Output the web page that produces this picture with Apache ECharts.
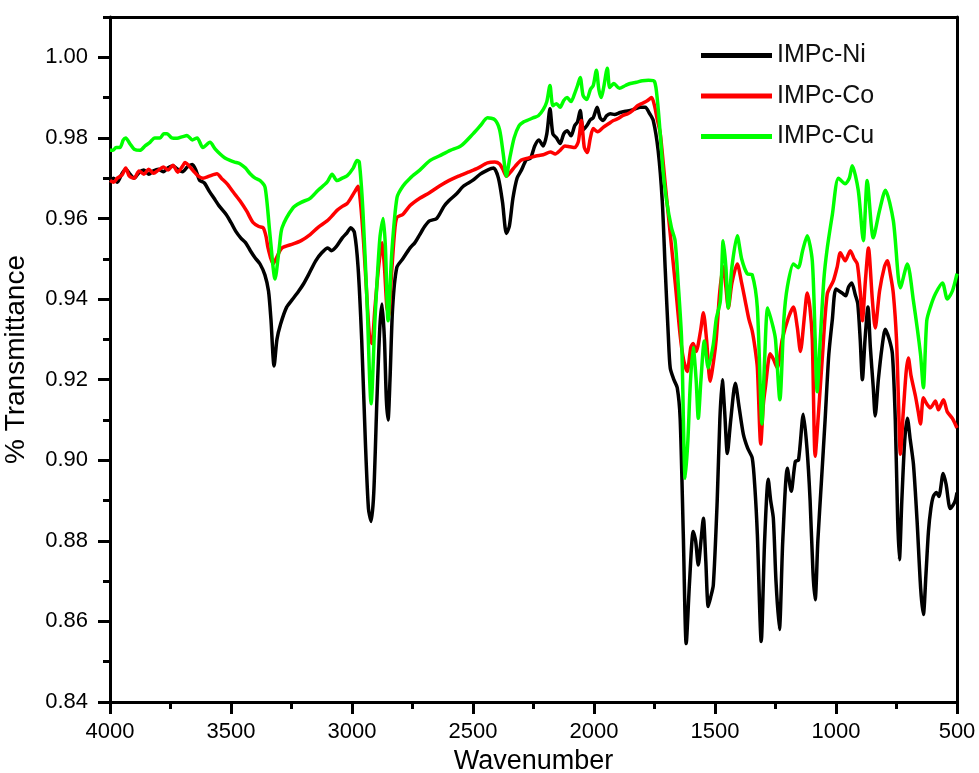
<!DOCTYPE html>
<html>
<head>
<meta charset="utf-8">
<script src="https://cdn.jsdelivr.net/npm/echarts@6/dist/echarts.min.js"></script>
<style>html,body{margin:0;padding:0;background:#fff}#c{width:979px;height:773px}</style>
</head>
<body>
<div id="c"></div>
<script>
var seriesNames = ['IMPc-Ni', 'IMPc-Co', 'IMPc-Cu'];
var yTicks = [0.84, 0.86, 0.88, 0.90, 0.92, 0.94, 0.96, 0.98, 1.00];
var xTicks = [4000, 3500, 3000, 2500, 2000, 1500, 1000, 500];

var niWave = [4000,3985,3970,3950,3935,3920,3900,3880,3860,3840,3820,3800,3780,3760,3740,3720,3700,3680,3660,3645,3630,3610,3590,3570,3550,3520,3500,3480,3460,3440,3420,3400,3380,3360,3345,3335,3322,3310,3295,3270,3245,3220,3200,3180,3150,3125,3100,3085,3065,3040,3020,3005,2990,2975,2960,2945,2932,2921,2910,2897,2885,2876,2866,2858,2851,2843,2832,2815,2790,2760,2740,2720,2700,2680,2650,2620,2600,2570,2540,2500,2470,2440,2415,2395,2378,2362,2350,2335,2318,2300,2280,2262,2245,2228,2210,2195,2182,2170,2155,2140,2125,2111,2095,2080,2068,2057,2045,2030,2015,2003,1987,1975,1962,1948,1933,1915,1892,1870,1850,1830,1809,1788,1770,1755,1735,1718,1706,1693,1685,1670,1656,1644,1631,1619,1605,1590,1580,1569,1558,1548,1538,1528,1518,1507,1491,1480,1470,1460,1449,1435,1416,1400,1383,1365,1346,1335,1325,1309,1295,1280,1270,1259,1248,1234,1220,1201,1185,1168,1155,1135,1120,1107,1095,1086,1075,1060,1045,1030,1015,1000,975,960,948,935,920,910,900,891,880,868,858,846,838,825,810,796,780,767,755,745,738,728,716,705,693,680,665,650,639,628,618,608,598,585,575,557,545,528,515,507,500];
var niT = [0.9694,0.9700,0.9690,0.9712,0.9722,0.9712,0.9700,0.9714,0.9720,0.9710,0.9718,0.9722,0.9716,0.9726,0.9730,0.9722,0.9716,0.9728,0.9734,0.9720,0.9695,0.9688,0.9668,0.9650,0.9632,0.9610,0.9590,0.9568,0.9552,0.9540,0.9520,0.9502,0.9487,0.9460,0.9420,0.9350,0.9234,0.9300,0.9338,0.9380,0.9400,0.9420,0.9438,0.9460,0.9495,0.9515,0.9527,0.9520,0.9530,0.9552,0.9565,0.9577,0.9565,0.9480,0.9300,0.9050,0.8880,0.8848,0.8920,0.9150,0.9330,0.9388,0.9300,0.9150,0.9100,0.9200,0.9380,0.9478,0.9500,0.9527,0.9540,0.9560,0.9580,0.9594,0.9600,0.9630,0.9644,0.9660,0.9680,0.9695,0.9710,0.9720,0.9725,0.9700,0.9640,0.9563,0.9580,0.9650,0.9700,0.9720,0.9745,0.9750,0.9780,0.9795,0.9780,0.9810,0.9872,0.9810,0.9800,0.9786,0.9810,0.9818,0.9805,0.9830,0.9840,0.9868,0.9820,0.9830,0.9845,0.9850,0.9876,0.9850,0.9843,0.9855,0.9860,0.9858,0.9863,0.9866,0.9868,0.9872,0.9876,0.9876,0.9860,0.9843,0.9769,0.9644,0.9478,0.9310,0.9229,0.9200,0.9180,0.9104,0.8816,0.8545,0.8700,0.8823,0.8800,0.8740,0.8800,0.8856,0.8750,0.8637,0.8660,0.8690,0.8898,0.9100,0.9200,0.9120,0.9017,0.9100,0.9191,0.9130,0.9065,0.9030,0.9005,0.8930,0.8816,0.8550,0.8800,0.8953,0.8900,0.8856,0.8700,0.8580,0.8800,0.8980,0.8923,0.8997,0.9000,0.9114,0.9030,0.8900,0.8720,0.8654,0.8800,0.8950,0.9100,0.9260,0.9350,0.9425,0.9415,0.9408,0.9430,0.9440,0.9410,0.9388,0.9300,0.9200,0.9300,0.9380,0.9280,0.9180,0.9110,0.9200,0.9280,0.9325,0.9300,0.9264,0.9100,0.8850,0.8753,0.8900,0.9050,0.9104,0.9050,0.8990,0.8850,0.8680,0.8617,0.8720,0.8823,0.8880,0.8910,0.8920,0.8910,0.8967,0.8940,0.8880,0.8890,0.8900,0.8920];

var coWave = [4000,3985,3970,3950,3935,3920,3900,3880,3860,3840,3820,3800,3780,3760,3740,3720,3700,3690,3657,3635,3616,3590,3558,3540,3516,3490,3463,3435,3409,3385,3367,3355,3347,3326,3310,3289,3243,3210,3173,3140,3103,3080,3062,3040,3020,3000,2985,2975,2965,2952,2940,2928,2918,2905,2890,2876,2866,2856,2848,2838,2825,2815,2790,2760,2720,2680,2640,2600,2560,2520,2480,2440,2410,2390,2375,2362,2345,2325,2300,2270,2240,2210,2180,2160,2140,2120,2100,2080,2065,2052,2040,2028,2015,2003,1985,1962,1940,1920,1900,1880,1860,1840,1820,1800,1780,1762,1750,1740,1726,1706,1685,1664,1644,1630,1615,1600,1590,1578,1560,1548,1535,1520,1505,1495,1480,1466,1455,1445,1430,1408,1390,1375,1360,1346,1335,1325,1311,1300,1292,1272,1258,1243,1222,1197,1176,1160,1147,1130,1119,1108,1098,1086,1072,1057,1036,1011,995,982,962,941,925,912,900,891,878,866,850,838,820,800,788,775,763,750,742,734,722,710,701,690,672,660,651,639,625,610,589,577,556,540,519,500];
var coT = [0.9694,0.9690,0.9700,0.9708,0.9725,0.9705,0.9700,0.9718,0.9710,0.9722,0.9712,0.9720,0.9728,0.9720,0.9732,0.9715,0.9730,0.9739,0.9719,0.9705,0.9700,0.9705,0.9711,0.9700,0.9686,0.9665,0.9644,0.9618,0.9590,0.9580,0.9577,0.9555,0.9527,0.9487,0.9505,0.9527,0.9537,0.9545,0.9560,0.9578,0.9594,0.9608,0.9620,0.9630,0.9637,0.9655,0.9670,0.9680,0.9640,0.9540,0.9420,0.9310,0.9290,0.9380,0.9480,0.9540,0.9480,0.9380,0.9360,0.9450,0.9560,0.9602,0.9610,0.9632,0.9650,0.9664,0.9680,0.9694,0.9705,0.9715,0.9725,0.9738,0.9740,0.9735,0.9720,0.9705,0.9715,0.9730,0.9745,0.9750,0.9755,0.9758,0.9765,0.9760,0.9769,0.9780,0.9778,0.9776,0.9790,0.9843,0.9776,0.9764,0.9800,0.9823,0.9815,0.9826,0.9835,0.9843,0.9848,0.9856,0.9860,0.9868,0.9880,0.9886,0.9892,0.9900,0.9880,0.9850,0.9810,0.9687,0.9562,0.9438,0.9310,0.9250,0.9220,0.9280,0.9290,0.9270,0.9320,0.9366,0.9300,0.9196,0.9250,0.9300,0.9420,0.9480,0.9430,0.9378,0.9440,0.9487,0.9440,0.9395,0.9350,0.9320,0.9280,0.9230,0.9040,0.9140,0.9180,0.9264,0.9250,0.9229,0.9300,0.9353,0.9380,0.9330,0.9270,0.9360,0.9415,0.9380,0.9300,0.9010,0.9120,0.9250,0.9413,0.9445,0.9480,0.9515,0.9495,0.9520,0.9500,0.9487,0.9420,0.9346,0.9450,0.9527,0.9400,0.9328,0.9420,0.9480,0.9495,0.9460,0.9413,0.9300,0.9150,0.9015,0.9120,0.9220,0.9254,0.9210,0.9160,0.9120,0.9090,0.9155,0.9140,0.9130,0.9147,0.9125,0.9150,0.9120,0.9104,0.9080];

var cuWave = [4000,3988,3975,3959,3945,3935,3917,3900,3876,3855,3835,3815,3793,3778,3764,3745,3723,3700,3682,3660,3640,3616,3587,3565,3545,3525,3504,3485,3463,3440,3421,3400,3380,3359,3339,3318,3300,3289,3243,3210,3173,3140,3103,3082,3062,3040,3020,2995,2979,2970,2955,2938,2921,2905,2885,2871,2862,2851,2835,2814,2790,2760,2720,2677,2640,2594,2550,2500,2470,2440,2410,2390,2375,2362,2348,2330,2310,2290,2270,2250,2230,2210,2195,2182,2170,2155,2140,2125,2111,2095,2080,2068,2057,2045,2030,2015,2003,1990,1980,1970,1960,1945,1935,1918,1895,1870,1850,1825,1800,1775,1750,1738,1725,1715,1700,1680,1665,1652,1638,1623,1612,1602,1590,1578,1569,1558,1544,1528,1507,1495,1478,1466,1455,1445,1430,1408,1390,1367,1346,1325,1306,1295,1282,1259,1250,1232,1215,1201,1176,1156,1138,1119,1098,1086,1078,1065,1050,1036,1015,990,962,945,933,908,887,871,846,820,796,763,734,705,680,651,639,625,610,589,560,540,519,500];
var cuT = [0.9769,0.9769,0.9776,0.9776,0.9795,0.9800,0.9785,0.9772,0.9769,0.9780,0.9789,0.9800,0.9800,0.9810,0.9810,0.9800,0.9799,0.9803,0.9806,0.9795,0.9800,0.9776,0.9789,0.9772,0.9760,0.9750,0.9744,0.9740,0.9736,0.9725,0.9711,0.9700,0.9694,0.9677,0.9560,0.9450,0.9530,0.9577,0.9627,0.9640,0.9650,0.9670,0.9690,0.9710,0.9694,0.9700,0.9706,0.9725,0.9744,0.9740,0.9620,0.9395,0.9140,0.9350,0.9550,0.9600,0.9530,0.9346,0.9520,0.9652,0.9680,0.9700,0.9720,0.9744,0.9755,0.9769,0.9780,0.9810,0.9830,0.9850,0.9845,0.9820,0.9760,0.9705,0.9750,0.9800,0.9830,0.9840,0.9845,0.9850,0.9855,0.9870,0.9890,0.9930,0.9880,0.9885,0.9876,0.9893,0.9900,0.9890,0.9910,0.9930,0.9950,0.9905,0.9895,0.9920,0.9930,0.9968,0.9920,0.9900,0.9925,0.9973,0.9925,0.9935,0.9923,0.9930,0.9935,0.9938,0.9942,0.9943,0.9940,0.9893,0.9800,0.9720,0.9644,0.9577,0.9545,0.9438,0.9300,0.8955,0.9050,0.9190,0.9280,0.9200,0.9104,0.9200,0.9296,0.9229,0.9288,0.9350,0.9395,0.9545,0.9480,0.9378,0.9480,0.9557,0.9500,0.9463,0.9460,0.9378,0.9090,0.9250,0.9378,0.9328,0.9300,0.9150,0.9353,0.9430,0.9487,0.9478,0.9520,0.9557,0.9495,0.9300,0.9170,0.9300,0.9450,0.9527,0.9610,0.9700,0.9686,0.9700,0.9731,0.9670,0.9545,0.9694,0.9552,0.9620,0.9670,0.9594,0.9428,0.9487,0.9395,0.9264,0.9180,0.9346,0.9380,0.9413,0.9440,0.9400,0.9420,0.9463];

function zip(w, t) { return w.map(function (x, i) { return [x, t[i]]; }); }
var waves = [niWave, coWave, cuWave];
var trans = [niT, coT, cuT];
var colors = ['#000000', '#ff0000', '#00ff00'];

var font = '"Liberation Sans", Arial, sans-serif';
var blk = '#000';

// plot area geometry: y from 0.84 (bottom) to 1.01 (top)
var chartH = 773, gridTop = 17, gridBottom = 71;
var plotH = chartH - gridTop - gridBottom;
var gridTop2 = gridTop + plotH * (1.01 - yTicks[yTicks.length - 1]) / (1.01 - yTicks[0]);

var chart = echarts.init(document.getElementById('c'), null, {renderer: 'canvas'});
chart.setOption({
  animation: false,
  backgroundColor: '#fff',
  grid: [
    {left: 110, right: 22, top: gridTop, bottom: gridBottom, containLabel: false, outerBoundsMode: 'none'},
    {left: 110, right: 22, top: gridTop2, bottom: gridBottom, containLabel: false, outerBoundsMode: 'none'}
  ],
  legend: {
    orient: 'vertical', left: 696, top: 38,
    icon: 'rect', itemWidth: 71, itemHeight: 5, itemGap: 15.5,
    data: seriesNames,
    textStyle: {fontFamily: font, fontSize: 25, color: '#111', lineHeight: 24}
  },
  xAxis: [{
    gridIndex: 0, type: 'value', min: 500, max: 4000, interval: 500, inverse: true,
    name: 'Wavenumber', nameLocation: 'middle', nameGap: 44,
    nameTextStyle: {fontFamily: font, fontSize: 27, color: blk},
    axisLine: {show: true, lineStyle: {color: blk, width: 3}},
    axisTick: {show: true, length: 12, lineStyle: {color: blk, width: 3}},
    minorTick: {show: true, splitNumber: 2, length: 7, lineStyle: {color: blk, width: 3}},
    axisLabel: {fontFamily: font, fontSize: 22, color: blk, margin: 19,
      formatter: function (v) { return String(v); }},
    splitLine: {show: false}
  }, {
    gridIndex: 0, type: 'value', position: 'top', min: 500, max: 4000, inverse: true,
    axisLine: {show: true, onZero: false, lineStyle: {color: blk, width: 3}},
    axisTick: {show: false}, axisLabel: {show: false}, splitLine: {show: false}
  }, {
    gridIndex: 1, type: 'value', min: 500, max: 4000, inverse: true, show: false
  }],
  yAxis: [{
    gridIndex: 0, type: 'value', min: 0.84, max: 1.01, interval: 0.01,
    name: '% Transmittance', nameLocation: 'middle', nameGap: 80,
    nameTextStyle: {fontFamily: font, fontSize: 28, color: blk},
    axisLine: {show: true, lineStyle: {color: blk, width: 3}},
    axisTick: {show: true, length: 7, lineStyle: {color: blk, width: 3}},
    axisLabel: {show: false}, splitLine: {show: false}
  }, {
    gridIndex: 0, type: 'value', min: 0.84, max: 1.01, position: 'right',
    axisLine: {show: true, onZero: false, lineStyle: {color: blk, width: 3}},
    axisTick: {show: false}, axisLabel: {show: false}, splitLine: {show: false}
  }, {
    gridIndex: 1, type: 'value', min: yTicks[0], max: yTicks[yTicks.length - 1], interval: 0.02,
    axisLine: {show: false},
    axisTick: {show: true, length: 12, lineStyle: {color: blk, width: 3}},
    axisLabel: {fontFamily: font, fontSize: 22, color: blk, margin: 22,
      formatter: function (v) { return Number(v).toFixed(2); }},
    splitLine: {show: false}
  }],
  series: seriesNames.map(function (name, k) {
    return {
      name: name, type: 'line', xAxisIndex: 0, yAxisIndex: 0,
      data: zip(waves[k], trans[k]),
      showSymbol: false, symbol: 'none', smooth: 0.25,
      lineStyle: {color: colors[k], width: 3.5},
      itemStyle: {color: colors[k]},
      z: 2 + k
    };
  })
});
</script>
</body>
</html>
